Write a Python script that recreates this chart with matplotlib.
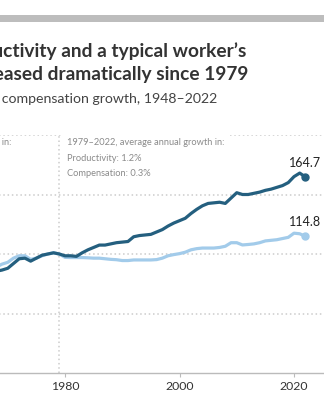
import matplotlib
matplotlib.use("Agg")
import matplotlib.pyplot as plt
from matplotlib.patches import Rectangle

plt.rcParams["font.family"] = ["Lato", "DejaVu Sans"]

years = list(range(1968, 2023))
productivity = [
    85.5, 86.5, 88, 92, 96, 96.5, 94, 96.5, 99, 100, 101, 100,          # 1968-1979
    98.5, 98.5, 98, 101, 103.5, 105.5, 107.5, 107.5, 108.5, 109.5,      # 1980s
    110, 110.5, 114.5, 115.5, 116, 116.5, 118.5, 120.5, 123.5, 126,     # 1990s
    128, 130, 134, 137.5, 140.5, 142.5, 143, 143.5, 142.5, 147,         # 2000s
    151.5, 150, 150, 151, 152, 153.5, 154.5, 156, 157.5, 160,           # 2010s
    165, 168, 164.7,                                                    # 2020-2022
]
compensation = [
    89, 91.5, 93, 96.5, 98.5, 98.5, 95.5, 96.5, 98.5, 100, 101, 100,
    97.2, 97, 97, 97, 96.8, 96.5, 96.5, 96, 95.5, 95.2,
    94.5, 94.5, 95, 95, 95, 95, 95.3, 96.5, 98.5, 99.5,
    100.3, 101.5, 103.5, 104.5, 105, 105, 105, 105.5, 106.5, 109.5,
    109.5, 107.6, 108, 108.5, 109.5, 111, 111.5, 112, 113, 114,
    117.5, 117, 114.8,
]
x_ticks = [1980, 2000, 2020]
grid_values = [50, 100, 150, 200]
break_year = 1979

title_lines = [
    "The gap between productivity and a typical worker\u2019s",
    "compensation has increased dramatically since 1979",
]
subtitle = "Productivity growth and hourly compensation growth, 1948\u20132022"
note_before = "1948\u20131979, average annual growth in:\nProductivity: 2.5%\nCompensation: 2.4%"
note_after = "1979\u20132022, average annual growth in:\nProductivity: 1.2%\nCompensation: 0.3%"

DARK = "#245f7f"
LIGHT = "#a2cbea"
W, H = 324, 400

fig = plt.figure(figsize=(W / 100, H / 100), dpi=100)

# grey rule across the top
fig.patches.append(Rectangle((0, 1 - 22 / H), 1, 7 / H, transform=fig.transFigure,
                             facecolor="#bdbdbd", edgecolor="none"))

# title / subtitle, left part runs off the crop
fig.text(246 / W, 1 - 57 / H, title_lines[0], ha="right", va="baseline",
         fontsize=13.8, fontweight="bold", color="#333333")
fig.text(248 / W, 1 - 80 / H, title_lines[1], ha="right", va="baseline",
         fontsize=13.8, fontweight="bold", color="#333333")
fig.text(217 / W, 1 - 103 / H, subtitle, ha="right", va="baseline",
         fontsize=10.2, color="#444444")

# axes: 1948 sits far off the left edge of the crop
px_per_year = 5.725
x0, x1 = 1948, 2025.25
left_px = 65 - (1980 - x0) * px_per_year
ax = fig.add_axes([left_px / W, 27 / H, (x1 - x0) * px_per_year / W, 238 / H])
ax.set_xlim(x0, x1)
ax.set_ylim(0, 200)

dots = (0, (1, 1.8))
for v in grid_values:
    ax.axhline(v, color="#cccccc", lw=1.1, ls=dots, zorder=0)
ax.axvline(break_year, color="#cccccc", lw=1.1, ls=dots, zorder=0)

ax.plot(years, compensation, color=LIGHT, lw=2.3, solid_capstyle="round", zorder=3)
ax.plot(years, productivity, color=DARK, lw=2.3, solid_capstyle="round", zorder=4)
ax.plot(years[-1], compensation[-1], "o", color=LIGHT, ms=5, zorder=5)
ax.plot(years[-1], productivity[-1], "o", color=DARK, ms=5, zorder=5)

ax.annotate(f"{productivity[-1]:.1f}", (years[-1], productivity[-1]),
            xytext=(0, 6), textcoords="offset points", ha="center", va="bottom",
            fontsize=9, color="#222222")
ax.annotate(f"{compensation[-1]:.1f}", (years[-1], compensation[-1]),
            xytext=(0, 6), textcoords="offset points", ha="center", va="bottom",
            fontsize=9, color="#222222")

ax.text(break_year + 1.3, 197.5, note_after, ha="left", va="top", fontsize=6.7,
        color="#8a8a8a", linespacing=1.95, zorder=6,
        bbox=dict(facecolor="white", edgecolor="none", pad=2.5))
ax.text(1970.6, 197.5, note_before, ha="right", va="top", fontsize=6.7,
        color="#8a8a8a", linespacing=1.95, multialignment="left", zorder=6)

for s in ["top", "right", "left"]:
    ax.spines[s].set_visible(False)
ax.spines["bottom"].set_color("#bbbbbb")
ax.spines["bottom"].set_linewidth(1)
ax.set_yticks([])
ax.set_xticks(x_ticks)
ax.tick_params(axis="x", length=3, width=0.8, color="#bbbbbb", labelsize=8.8,
               labelcolor="#333333", pad=3)

fig.savefig("out.png", dpi=100)
